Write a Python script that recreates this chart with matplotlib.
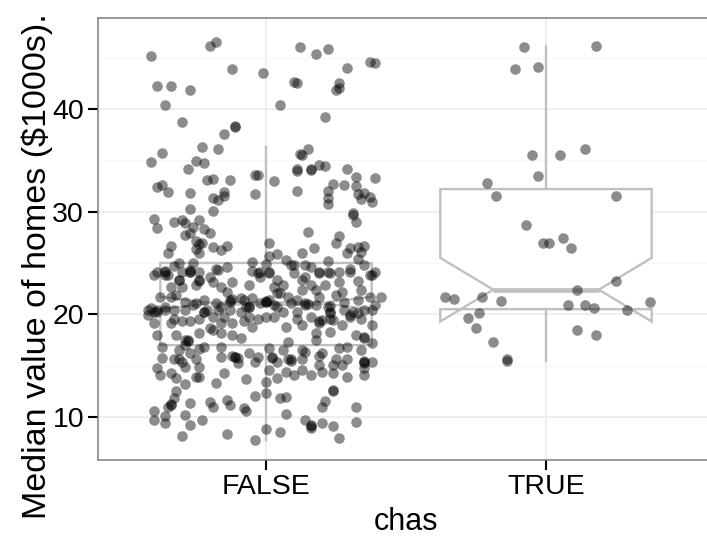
import matplotlib
matplotlib.use("Agg")
import matplotlib.pyplot as plt

# categories on the x axis
groups = ["FALSE", "TRUE"]

# chas == FALSE : median value (in $1000s) and horizontal jitter of each point
false_medv = [
    46.5, 46.1, 45.2, 43.9, 43.5, 42.2, 42.2, 41.8, 40.4, 38.7,
    38.2, 38.3, 37.6, 35.7, 36.3, 36.1, 34.8, 34.9, 34.7, 34.2,
    46.0, 45.4, 45.8, 44.0, 44.6, 44.5, 42.5, 42.6, 42.5, 41.8,
    42.0, 40.4, 39.2, 36.1, 35.6, 35.5, 34.2, 34.2, 34.5, 34.4,
    34.2, 33.1, 33.2, 33.1, 32.4, 32.6, 31.9, 31.8, 31.3, 31.1,
    31.9, 31.5, 31.7, 33.6, 33.6, 30.3, 30.1, 29.3, 28.4, 29.0,
    29.2, 28.9, 29.2, 28.5, 28.3, 27.9, 27.7, 27.9, 27.1, 26.8,
    26.9, 26.6, 26.3, 26.7, 26.7, 26.0, 26.4, 26.0, 25.0, 25.0,
    24.7, 24.1, 24.2, 24.1, 24.1, 24.3, 24.1, 24.4, 24.6, 25.1,
    24.2, 24.1, 34.0, 34.1, 33.0, 32.0, 32.7, 32.6, 33.4, 33.3,
    32.5, 32.0, 31.3, 30.7, 31.7, 31.8, 31.2, 31.4, 30.9, 29.9,
    29.7, 29.0, 28.0, 27.6, 26.9, 26.9, 26.5, 26.0, 26.5, 26.6,
    26.7, 26.1, 26.0, 25.7, 25.9, 25.3, 24.8, 24.8, 24.6, 25.2,
    25.4, 24.8, 24.9, 24.4, 24.1, 24.1, 24.1, 24.1, 24.1, 23.8,
    23.8, 23.3, 24.1, 23.3, 23.6, 24.3, 23.1, 22.9, 24.0, 22.7,
    22.7, 22.9, 23.1, 22.7, 21.7, 21.7, 21.9, 21.2, 21.1, 21.4,
    21.1, 21.4, 21.5, 21.6, 20.7, 20.6, 20.2, 20.4, 20.7, 20.4,
    20.4, 20.2, 20.4, 20.7, 20.4, 20.2, 20.7, 19.7, 21.1, 19.7,
    19.7, 19.2, 19.2, 19.5, 19.3, 19.3, 19.5, 18.7, 19.2, 19.2,
    19.3, 18.8, 18.5, 18.0, 18.0, 18.2, 18.2, 18.0, 17.7, 17.5,
    17.4, 16.8, 16.5, 17.0, 16.6, 16.8, 16.8, 16.2, 15.8, 15.9,
    15.8, 15.7, 16.2, 15.8, 15.7, 15.6, 15.6, 15.4, 15.6, 23.6,
    24.0, 23.3, 24.0, 23.6, 24.0, 24.0, 23.1, 24.1, 23.2, 23.8,
    23.8, 23.3, 22.9, 22.9, 22.7, 22.9, 22.1, 21.7, 22.4, 22.4,
    21.7, 21.9, 22.2, 21.4, 21.7, 21.7, 21.2, 21.3, 21.4, 20.7,
    20.2, 21.1, 20.9, 21.0, 20.9, 20.7, 20.8, 20.2, 20.4, 20.2,
    20.1, 20.4, 20.9, 20.2, 19.7, 19.7, 18.8, 19.5, 19.0, 19.7,
    19.3, 19.4, 19.5, 19.4, 19.0, 19.7, 19.5, 19.0, 19.5, 18.2,
    17.5, 18.3, 18.0, 17.8, 17.7, 17.2, 17.3, 16.7, 16.5, 16.5,
    16.3, 16.2, 16.7, 16.8, 16.5, 15.8, 15.7, 15.6, 15.5, 15.6,
    15.9, 15.6, 15.6, 15.4, 15.5, 15.4, 14.8, 14.1, 14.3, 13.8,
    14.9, 14.9, 13.9, 13.9, 14.3, 15.3, 15.4, 14.6, 15.4, 13.8,
    14.4, 14.1, 14.6, 14.1, 15.1, 14.4, 14.3, 15.1, 13.9, 14.8,
    14.1, 13.2, 13.3, 13.7, 13.4, 12.5, 12.3, 12.0, 12.6, 12.5,
    11.8, 11.8, 11.9, 11.6, 11.2, 11.3, 11.0, 11.4, 11.5, 11.0,
    11.7, 11.2, 10.9, 10.6, 11.0, 11.0, 10.6, 10.1, 10.2, 10.3,
    9.7, 9.4, 9.2, 9.7, 9.7, 9.2, 9.1, 8.9, 9.4, 9.1,
    9.5, 8.8, 8.5, 8.1, 8.3, 7.8, 8.0, 20.2, 20.4, 23.8,
    23.3, 24.1, 23.2, 20.2, 20.4, 21.2, 20.7, 21.2, 22.1, 24.8,
    21.1, 19.2, 20.1, 19.9, 20.4, 17.5, 15.8, 15.6, 15.1, 15.3,
    20.4, 19.9, 21.4, 21.6, 20.9, 22.2, 21.4, 21.2, 22.4, 20.9,
]
false_jitter = [
    -0.18, -0.20, -0.41, -0.12, -0.01, -0.39, -0.34, -0.27, -0.36, -0.30,
    -0.11, -0.11, -0.15, -0.37, -0.23, -0.17, -0.41, -0.25, -0.22, -0.28,
    0.12, 0.18, 0.22, 0.29, 0.37, 0.39, 0.11, 0.10, 0.26, 0.25,
    0.26, 0.05, 0.21, 0.15, 0.12, 0.13, 0.11, 0.16, 0.19, 0.21,
    0.29, -0.21, -0.19, -0.13, -0.39, -0.37, -0.35, -0.27, -0.19, -0.17,
    -0.15, -0.15, -0.04, -0.04, -0.03, -0.27, -0.19, -0.40, -0.39, -0.33,
    -0.30, -0.29, -0.24, -0.26, -0.22, -0.20, -0.29, -0.27, -0.25, -0.24,
    -0.23, -0.19, -0.16, -0.14, -0.34, -0.35, -0.25, -0.24, -0.26, -0.31,
    -0.33, -0.36, -0.36, -0.39, -0.30, -0.27, -0.24, -0.18, -0.14, -0.05,
    -0.05, -0.02, 0.11, 0.16, 0.03, 0.11, 0.24, 0.28, 0.32, 0.39,
    0.32, 0.22, 0.22, 0.22, 0.33, 0.35, 0.34, 0.37, 0.38, 0.31,
    0.31, 0.32, 0.15, 0.26, 0.25, 0.01, 0.17, 0.13, 0.30, 0.33,
    0.35, 0.34, 0.29, 0.01, 0.04, 0.07, 0.10, 0.14, 0.16, 0.22,
    0.33, 0.35, 0.00, 0.30, 0.39, 0.19, 0.26, 0.22, 0.01, -0.40,
    -0.36, -0.31, -0.27, -0.24, -0.20, -0.17, -0.12, -0.06, -0.03, -0.34,
    -0.30, -0.25, -0.19, -0.16, -0.38, -0.34, -0.32, -0.29, -0.25, -0.22,
    -0.18, -0.13, -0.12, -0.09, -0.07, -0.41, -0.39, -0.39, -0.36, -0.33,
    -0.29, -0.22, -0.21, -0.16, -0.13, -0.09, -0.06, -0.06, -0.02, -0.19,
    -0.15, -0.40, -0.34, -0.33, -0.30, -0.27, -0.24, -0.20, -0.16, -0.12,
    -0.08, -0.05, -0.19, -0.39, -0.32, -0.24, -0.16, -0.12, -0.09, -0.29,
    -0.28, -0.37, -0.31, -0.29, -0.24, -0.22, -0.16, -0.27, -0.16, -0.12,
    -0.11, -0.10, -0.06, -0.03, -0.37, -0.33, -0.31, -0.30, -0.25, -0.02,
    0.01, 0.04, 0.10, 0.14, 0.19, 0.23, 0.26, 0.30, 0.33, 0.37,
    0.38, 0.13, 0.16, 0.21, 0.03, 0.06, 0.04, 0.08, 0.13, 0.18,
    0.19, 0.25, 0.27, 0.33, 0.37, 0.41, 0.00, 0.00, 0.01, 0.04,
    0.06, 0.09, 0.14, 0.15, 0.18, 0.22, 0.23, 0.23, 0.28, 0.31,
    0.33, 0.38, 0.39, 0.11, 0.00, 0.03, 0.07, 0.11, 0.13, 0.16,
    0.19, 0.20, 0.23, 0.24, 0.27, 0.30, 0.34, 0.38, -0.03, 0.18,
    0.18, 0.23, 0.32, 0.35, 0.35, 0.38, 0.08, 0.01, 0.06, 0.13,
    0.14, 0.20, 0.26, 0.29, 0.34, 0.02, 0.02, 0.09, 0.09, 0.13,
    0.19, 0.25, 0.29, 0.35, 0.35, 0.38, -0.39, -0.38, -0.34, -0.32,
    -0.29, -0.24, -0.25, -0.24, -0.15, -0.10, -0.04, 0.01, 0.04, 0.04,
    0.07, 0.10, 0.13, 0.16, 0.19, 0.20, 0.24, 0.27, 0.29, 0.35,
    0.35, -0.29, -0.18, -0.07, 0.00, -0.32, 0.00, -0.04, 0.24, 0.24,
    -0.33, 0.05, 0.07, 0.21, -0.34, -0.34, -0.35, -0.27, -0.20, -0.19,
    -0.14, -0.13, -0.08, -0.07, 0.20, 0.32, -0.40, -0.36, -0.29, 0.07,
    -0.40, -0.36, -0.27, -0.23, 0.14, 0.16, 0.16, 0.16, 0.20, 0.24,
    0.32, 0.00, 0.05, -0.30, -0.14, -0.04, 0.26, -0.40, -0.36, -0.35,
    -0.31, -0.27, -0.24, -0.22, -0.17, -0.13, -0.06, 0.00, 0.05, 0.09,
    0.14, 0.19, 0.23, 0.30, 0.35, -0.28, -0.11, 0.08, 0.24, 0.35,
    -0.42, -0.42, -0.08, -0.05, -0.26, -0.14, 0.11, 0.28, 0.34, 0.03,
]

# chas == TRUE
true_medv = [
    46.0, 46.1, 43.9, 44.1, 35.5, 35.5, 36.1, 33.5, 32.8, 31.5,
    31.5, 28.7, 26.9, 26.9, 27.4, 26.5, 23.2, 22.4, 21.7, 21.5,
    21.7, 21.3, 20.9, 20.9, 20.6, 21.2, 20.4, 20.1, 19.6, 18.7,
    18.5, 18.0, 17.3, 15.6, 15.5,
]
true_jitter = [
    -0.08, 0.18, -0.11, -0.03, -0.05, 0.05, 0.14, -0.03, -0.21, -0.18,
    0.25, -0.07, -0.01, 0.01, 0.06, 0.09, 0.25, 0.11, -0.36, -0.33,
    -0.23, -0.16, 0.08, 0.14, 0.17, 0.37, 0.29, -0.24, -0.28, -0.25,
    0.11, 0.18, -0.19, -0.14, -0.14,
]

# notched box statistics for each group
box_q1 = [17.0, 20.5]
box_med = [21.1, 22.4]
box_q3 = [25.0, 32.2]
whisker_lo = [7.8, 15.5]
whisker_hi = [36.3, 46.1]
notch_lo = [20.5, 19.3]
notch_hi = [21.7, 25.5]

plt.rcParams["font.family"] = ["Liberation Sans", "DejaVu Sans"]

fig = plt.figure(figsize=(7.07, 5.36), dpi=100)
ax = fig.add_axes([98 / 707, 76 / 536, 616 / 707, 442 / 536])

stats = []
for i in range(len(groups)):
    stats.append(dict(med=box_med[i], q1=box_q1[i], q3=box_q3[i],
                      whislo=whisker_lo[i], whishi=whisker_hi[i],
                      cilo=notch_lo[i], cihi=notch_hi[i], fliers=[]))

grey = "#c0c0c0"
ax.bxp(stats, positions=[1, 2], widths=0.755, shownotches=True,
       showcaps=False, showfliers=False, patch_artist=True,
       boxprops=dict(facecolor="white", edgecolor=grey, linewidth=1.7),
       whiskerprops=dict(color=grey, linewidth=1.7),
       medianprops=dict(color=grey, linewidth=3.4, solid_capstyle="butt"),
       zorder=2)

ax.scatter([1 + j for j in false_jitter], false_medv, s=58, c="black",
           alpha=0.45, linewidths=0, zorder=3)
ax.scatter([2 + j for j in true_jitter], true_medv, s=58, c="black",
           alpha=0.45, linewidths=0, zorder=3)

ax.set_xlim(0.4, 2.6)
ax.set_ylim(5.81, 48.86)
ax.set_xticks([1, 2])
ax.set_xticklabels(groups)
ax.set_yticks([10, 20, 30, 40])
ax.set_yticks([15, 25, 35, 45], minor=True)

ax.grid(which="major", color="#ebebeb", linewidth=1.1)
ax.grid(which="minor", axis="y", color="#f6f6f6", linewidth=0.8)
ax.set_axisbelow(True)

for sp in ax.spines.values():
    sp.set_color("#7f7f7f")
    sp.set_linewidth(1.1)

ax.tick_params(which="major", length=7, width=1.5, color="black",
               labelsize=20.5, labelcolor="black", pad=3)
ax.tick_params(which="minor", length=0)

ax.set_xlabel("chas", fontsize=22, labelpad=5)
fig.text(37 / 707, 1 - 266 / 536, "Median value of homes ($1000s).",
         rotation=90, ha="center", va="center", fontsize=24.5)

fig.savefig("out.png", dpi=100)
